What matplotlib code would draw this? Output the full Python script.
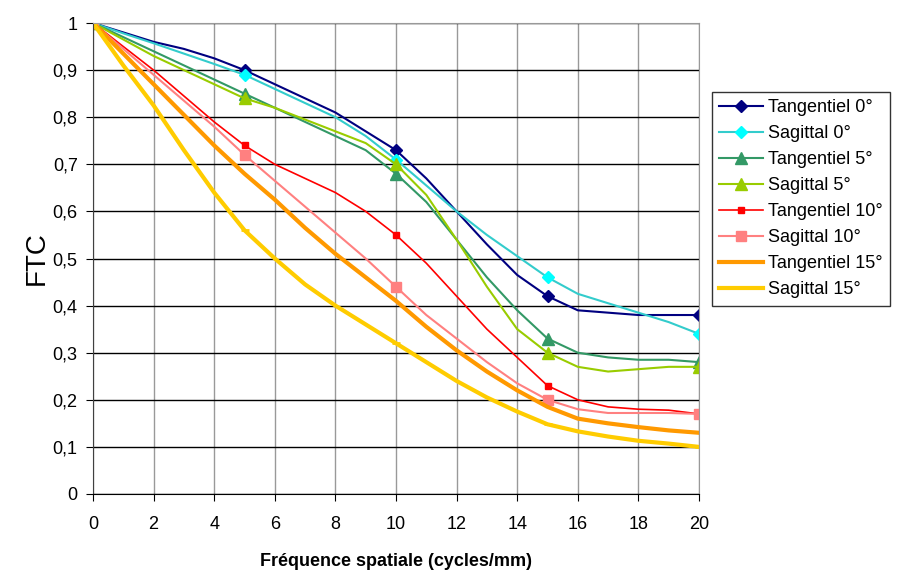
import numpy as np
import matplotlib
matplotlib.use('Agg')
import matplotlib.pyplot as plt
from matplotlib.ticker import FuncFormatter

plt.rcParams['font.family'] = ['Liberation Sans', 'DejaVu Sans']

freq = list(range(0, 21))

tang_0 = [1.0, 0.98, 0.96, 0.945, 0.925, 0.90, 0.87, 0.84, 0.81, 0.77, 0.73,
          0.67, 0.60, 0.53, 0.465, 0.42, 0.39, 0.385, 0.38, 0.38, 0.38]
sag_0 = [1.0, 0.978, 0.957, 0.935, 0.913, 0.89, 0.86, 0.83, 0.80, 0.76, 0.71,
         0.655, 0.60, 0.55, 0.505, 0.46, 0.425, 0.405, 0.385, 0.365, 0.34]
tang_5 = [1.0, 0.97, 0.94, 0.91, 0.88, 0.85, 0.82, 0.79, 0.76, 0.73, 0.68,
          0.62, 0.54, 0.46, 0.39, 0.33, 0.30, 0.29, 0.285, 0.285, 0.28]
sag_5 = [1.0, 0.965, 0.93, 0.90, 0.87, 0.84, 0.82, 0.795, 0.77, 0.745, 0.70,
         0.635, 0.54, 0.44, 0.35, 0.30, 0.27, 0.26, 0.265, 0.27, 0.27]
tang_10 = [1.0, 0.95, 0.90, 0.845, 0.79, 0.74, 0.70, 0.67, 0.64, 0.60, 0.55,
           0.49, 0.42, 0.35, 0.29, 0.23, 0.20, 0.185, 0.18, 0.178, 0.17]
sag_10 = [1.0, 0.945, 0.89, 0.835, 0.78, 0.72, 0.665, 0.61, 0.555, 0.50, 0.44,
          0.38, 0.33, 0.28, 0.235, 0.20, 0.18, 0.172, 0.172, 0.172, 0.17]
tang_15 = [1.0, 0.935, 0.87, 0.805, 0.74, 0.68, 0.625, 0.565, 0.51, 0.46, 0.41,
           0.355, 0.305, 0.26, 0.22, 0.185, 0.16, 0.15, 0.142, 0.135, 0.13]
sag_15 = [1.0, 0.91, 0.825, 0.73, 0.64, 0.56, 0.50, 0.445, 0.40, 0.36, 0.32,
          0.28, 0.24, 0.205, 0.175, 0.148, 0.133, 0.122, 0.113, 0.107, 0.10]

fig = plt.figure(figsize=(9, 5.7), dpi=100)
ax = fig.add_axes([93 / 900, 76 / 570, 606 / 900, 471 / 570])

ax.plot(freq, tang_0, color='#000080', lw=1.5, marker='D', ms=6.5,
        markevery=5, label='Tangentiel 0°')
ax.plot(freq, sag_0, color='#33CCCC', lw=1.5, marker='D', ms=6.5, mfc='#00FFFF',
        mec='#00FFFF', markevery=5, label='Sagittal 0°')
ax.plot(freq, tang_5, color='#339966', lw=1.5, marker='^', ms=9,
        markevery=5, label='Tangentiel 5°')
ax.plot(freq, sag_5, color='#99CC00', lw=1.5, marker='^', ms=9,
        markevery=5, label='Sagittal 5°')
ax.plot(freq, tang_10, color='#FF0000', lw=1.2, marker='s', ms=4.5,
        markevery=5, label='Tangentiel 10°')
ax.plot(freq, sag_10, color='#FF8080', lw=1.5, marker='s', ms=6.5,
        markevery=5, label='Sagittal 10°')
ax.plot(freq, tang_15, color='#FF9900', lw=3, label='Tangentiel 15°')
ax.plot(freq, sag_15, color='#FFCC00', lw=3, marker='_', ms=6, mew=2,
        markevery=5, label='Sagittal 15°')

ax.set_xlim(0, 20)
ax.set_ylim(0, 1)
ax.set_xticks(np.arange(0, 21, 2))
ax.set_yticks(np.arange(0, 1.01, 0.1))
ax.yaxis.set_major_formatter(FuncFormatter(lambda v, p: ('%g' % round(v, 1)).replace('.', ',')))

ax.grid(axis='y', color='black', lw=1)
ax.grid(axis='x', color='#999999', lw=1)
ax.set_axisbelow(True)
for side in ['top', 'right']:
    ax.spines[side].set_color('#999999')
ax.spines['left'].set_color('#404040')
ax.spines['bottom'].set_color('black')
ax.tick_params(direction='out', length=5, labelsize=13, color='black')
ax.tick_params(axis='x', pad=11)
ax.tick_params(axis='y', pad=6)

ax.set_ylabel('FTC', fontsize=20, labelpad=2)
ax.set_xlabel('Fréquence spatiale (cycles/mm)', fontsize=13, fontweight='bold', labelpad=14)

leg = fig.legend(loc='upper left', bbox_to_anchor=(712 / 900, 1 - 92 / 570),
                 fontsize=13, frameon=True, fancybox=False, edgecolor='black',
                 borderaxespad=0, handlelength=2.4, handletextpad=0.3,
                 labelspacing=0.5, borderpad=0.4)
leg.get_frame().set_linewidth(1)

fig.savefig('out.png', dpi=100, facecolor='white')
